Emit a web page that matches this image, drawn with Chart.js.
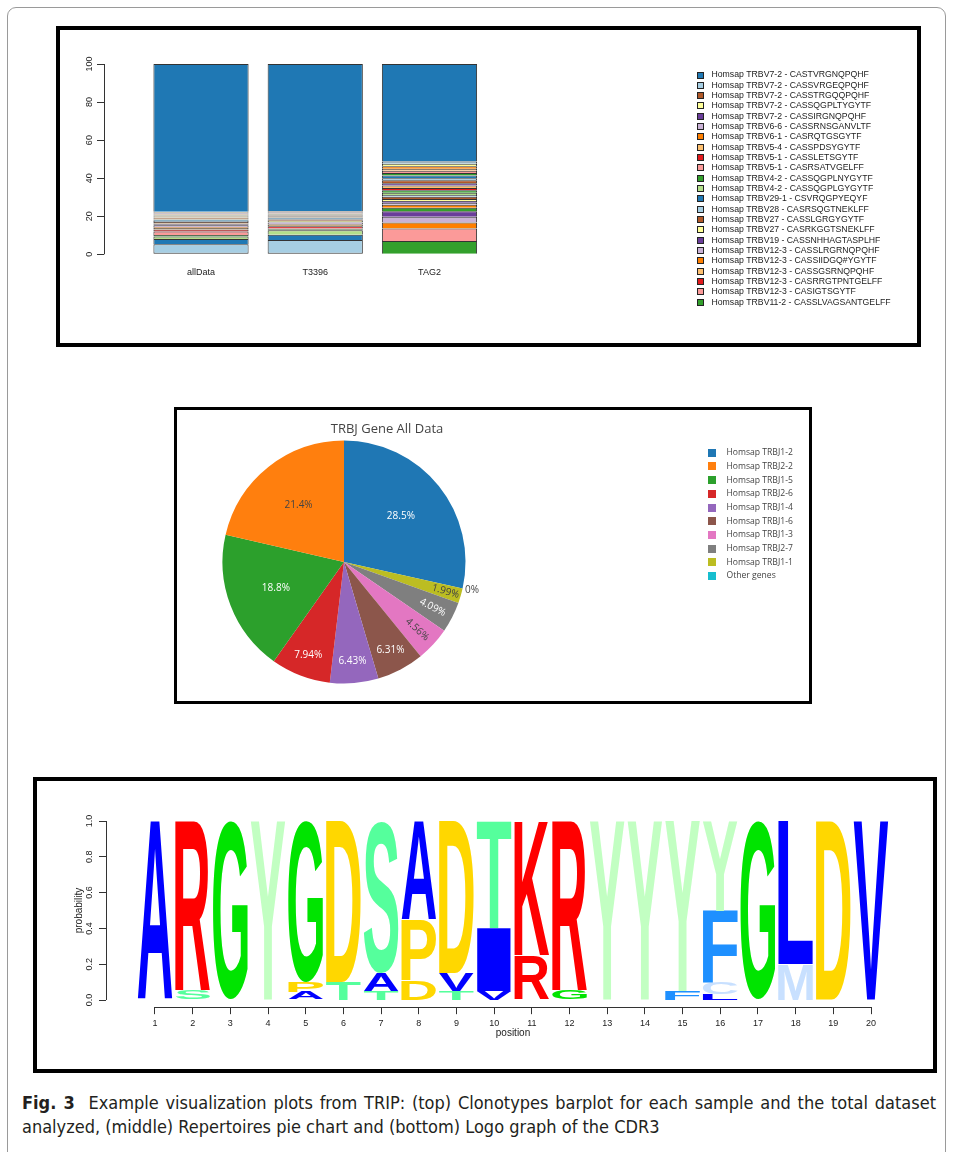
<!DOCTYPE html>
<html>
<head>
<meta charset="utf-8">
<title>Fig. 3 TRIP visualization plots</title>
<script src="https://cdn.jsdelivr.net/npm/chart.js@4.4.1/dist/chart.umd.min.js"></script>
<style>
  html, body { margin: 0; padding: 0; background: #fff; }
  body { position: relative; width: 953px; height: 1152px; overflow: hidden; }
  .frame { position: absolute; left: 7px; top: 7px; width: 939px; height: 1170px; border: 1px solid #9a9a9a; border-radius: 9px; box-sizing: border-box; }
  .box { position: absolute; border: 4px solid #000; box-sizing: border-box; }
  canvas { position: absolute; }
  .pie-title { position: absolute; left: 177px; width: 420px; top: 419px; height: 18px; line-height: 18px; text-align: center;
               font-family: "Open Sans", sans-serif; font-size: 13px; color: #444; }
  .caption { position: absolute; left: 22px; font-size: 18px; line-height: 24px; color: #231f20; white-space: nowrap;
             font-family: "Liberation Sans Narrow", "DejaVu Sans Condensed", "Roboto Condensed", "Liberation Sans", sans-serif; }
  .caption.l1 { top: 1091px; width: 914px; text-align: justify; text-align-last: justify; white-space: normal; }
  .caption.l2 { top: 1115px; }
  .caption b { font-weight: bold; }
</style>
</head>
<body>
<div class="frame"></div>

<div class="box" style="left:56px;top:26px;width:865px;height:321px;"></div>
<canvas id="bars" width="857" height="313" style="left:60px;top:30px;"></canvas>

<div class="box" style="left:174px;top:407px;width:638px;height:297px;border-width:3px;"></div>
<canvas id="pie" width="632" height="291" style="left:177px;top:410px;"></canvas>
<div class="pie-title">TRBJ Gene All Data</div>

<div class="box" style="left:33px;top:777px;width:904px;height:296px;"></div>
<canvas id="logo" width="896" height="288" style="left:37px;top:781px;"></canvas>

<div class="caption l1"><b>Fig. 3</b>&nbsp; Example visualization plots from TRIP: (top) Clonotypes barplot for each sample and the total dataset</div>
<div class="caption l2">analyzed, (middle) Repertoires pie chart and (bottom) Logo graph of the CDR3</div>

<script>
// ---------- Clonotype barplot data (rows listed from the top of each stack downwards) ----------
const samples = ['allData', 'T3396', 'TAG2'];
const samplePositions = [0.7, 1.9, 3.1];
const barTicks = [0, 20, 40, 60, 80, 100];

const clonotypes = [
  'Homsap TRBV7-2 - CASTVRGNQPQHF',
  'Homsap TRBV7-2 - CASSVRGEQPQHF',
  'Homsap TRBV7-2 - CASSTRGQQPQHF',
  'Homsap TRBV7-2 - CASSQGPLTYGYTF',
  'Homsap TRBV7-2 - CASSIRGNQPQHF',
  'Homsap TRBV6-6 - CASSRNSGANVLTF',
  'Homsap TRBV6-1 - CASRQTGSGYTF',
  'Homsap TRBV5-4 - CASSPDSYGYTF',
  'Homsap TRBV5-1 - CASSLETSGYTF',
  'Homsap TRBV5-1 - CASRSATVGELFF',
  'Homsap TRBV4-2 - CASSQGPLNYGYTF',
  'Homsap TRBV4-2 - CASSQGPLGYGYTF',
  'Homsap TRBV29-1 - CSVRQGPYEQYF',
  'Homsap TRBV28 - CASRSQGTNEKLFF',
  'Homsap TRBV27 - CASSLGRGYGYTF',
  'Homsap TRBV27 - CASRKGGTSNEKLFF',
  'Homsap TRBV19 - CASSNHHAGTASPLHF',
  'Homsap TRBV12-3 - CASSLRGRNQPQHF',
  'Homsap TRBV12-3 - CASSIIDGQ#YGYTF',
  'Homsap TRBV12-3 - CASSGSRNQPQHF',
  'Homsap TRBV12-3 - CASRRGTPNTGELFF',
  'Homsap TRBV12-3 - CASIGTSGYTF',
  'Homsap TRBV11-2 - CASSLVAGSANTGELFF'
];

// percentage of each clonotype row (50 rows, top of stack first)
const allDataPct = [77.6,
  0.2, 0.2, 0.3, 0.2, 0.2, 0.3, 0.2, 0, 0.2, 0, 0.2, 0.2, 0,
  0.3, 0.4, 0, 0, 0, 0.3, 0, 0, 0.2, 0, 0, 0, 0.4, 0.3, 0, 0, 0.2, 0, 0, 0, 0.2, 0,
  0.4, 0.5, 0.8, 0.4, 0.6, 0.8, 0.5, 0.9, 1.0, 1.8, 0.9, 1.2, 2.8, 5.3];
const t3396Pct = [77.2,
  0.3, 0.3, 0.2, 0.3, 0.2, 0.2, 0, 0.2, 0, 0.3, 0.2, 0, 0.2,
  0.3, 0, 0, 0, 0, 0.3, 0, 0, 0, 0.3, 0, 0, 0.3, 0, 0, 0, 0.3, 0, 0, 0, 0, 0,
  0.3, 0.3, 0.7, 0.7, 0.3, 0.7, 0.3, 0.9, 1.1, 0.4, 0.6, 2.3, 2.8, 7.5];
const tag2Pct = [51.2,
  1.2, 0, 1.3, 0, 0, 1.4, 1.0, 0, 1.2, 1.3, 0, 1.4, 1.1,
  1.5, 0, 1.2, 0, 0, 1.4, 1.2, 0, 1.3, 1.1, 0, 1.0, 1.2, 1.0, 0.9, 1.0, 1.6, 0, 0, 0, 1.9, 0,
  0, 0, 0, 0, 2.9, 3.0, 3.2, 0, 0, 6.5, 7.0, 0, 0, 0];

// Colour cycle used for the rows, in the same top-down order
const rowPalette = ['#1F78B4', '#A6CEE3', '#B15928', '#FFFF99', '#6A3D9A', '#CAB2D6',
                    '#FF7F00', '#FDBF6F', '#E31A1C', '#FB9A99', '#33A02C', '#B2DF8A'];

// ---------- TRBJ pie data (legend order) ----------
const trbjGenes = ['Homsap TRBJ1-2', 'Homsap TRBJ2-2', 'Homsap TRBJ1-5', 'Homsap TRBJ2-6', 'Homsap TRBJ1-4',
                   'Homsap TRBJ1-6', 'Homsap TRBJ1-3', 'Homsap TRBJ2-7', 'Homsap TRBJ1-1', 'Other genes'];
const trbjPercent = [28.5, 21.4, 18.8, 7.94, 6.43, 6.31, 4.56, 4.09, 1.99, 0];
const trbjColors = ['#1f77b4', '#ff7f0e', '#2ca02c', '#d62728', '#9467bd', '#8c564b', '#e377c2', '#7f7f7f', '#bcbd22', '#17becf'];

// ---------- CDR3 logo data (letters per position, bottom of stack first) ----------
const logoPositions = [1, 2, 3, 4, 5, 6, 7, 8, 9, 10, 11, 12, 13, 14, 15, 16, 17, 18, 19, 20];
const logoLetters = [
  ['A'], ['S', 'R'], ['G'], ['Y'], ['A', 'P', 'G'], ['T', 'D'], ['T', 'A', 'S'], ['D', 'P', 'A'],
  ['T', 'V', 'D'], ['V', 'I', 'T'], ['R', 'K'], ['G', 'R'], ['Y'], ['Y'], ['F', 'Y'],
  ['L', 'C', 'F', 'Y'], ['G'], ['M', 'L'], ['D'], ['V']
];
const logoProbs = [
  [1.0], [0.05, 0.95], [1.0], [1.0], [0.045, 0.055, 0.90], [0.10, 0.90], [0.05, 0.10, 0.85], [0.11, 0.34, 0.55],
  [0.05, 0.10, 0.85], [0.05, 0.35, 0.60], [0.25, 0.75], [0.05, 0.95], [1.0], [1.0], [0.05, 0.95],
  [0.035, 0.065, 0.40, 0.50], [1.0], [0.20, 0.80], [1.0], [1.0]
];
const logoYTicks = [0, 0.2, 0.4, 0.6, 0.8, 1.0];
const letterColors = {
  A: '#0000FF', V: '#0000FF', I: '#0000FF', L: '#0000FF',
  R: '#FF0000', K: '#FF0000',
  G: '#00E400',
  Y: '#C2FFC2',
  D: '#FFD700', P: '#FFD700',
  S: '#55FF9C', T: '#55FF9C',
  F: '#1E90FF',
  C: '#C8E0FF', M: '#C8E0FF'
};

const R_FONT = '"Liberation Sans", Arial, sans-serif';
const PLOTLY_FONT = '"Open Sans", sans-serif';

// ---------- shared plugins ----------
// R-style axis lines that only span the labelled tick range
const rAxisLines = {
  id: 'rAxisLines',
  afterDraw(chart, args, o) {
    const ctx = chart.ctx, area = chart.chartArea;
    ctx.save();
    ctx.strokeStyle = o.color || '#333';
    ctx.lineWidth = 1;
    ctx.beginPath();
    if (o.y) {
      const x = Math.round(area.left) + 0.5;
      ctx.moveTo(x, chart.scales.y.getPixelForValue(o.y[0]));
      ctx.lineTo(x, chart.scales.y.getPixelForValue(o.y[1]));
    }
    if (o.x) {
      const y = Math.round(area.bottom) + 0.5;
      ctx.moveTo(chart.scales.x.getPixelForValue(o.x[0]), y);
      ctx.lineTo(chart.scales.x.getPixelForValue(o.x[1]), y);
    }
    ctx.stroke();
    ctx.restore();
  }
};

// Vertical legend of coloured squares and labels
const boxLegend = {
  id: 'boxLegend',
  afterDraw(chart, args, o) {
    if (!o.entries) return;
    const ctx = chart.ctx;
    ctx.save();
    ctx.font = o.font;
    ctx.textAlign = 'left';
    ctx.textBaseline = 'middle';
    o.entries.forEach((it, k) => {
      const cy = o.y + k * o.spacing;
      const top = Math.round(cy - o.box / 2);
      ctx.fillStyle = it.color;
      ctx.fillRect(o.x, top, o.box, o.box);
      if (o.boxBorder) {
        ctx.strokeStyle = o.boxBorder;
        ctx.lineWidth = 1;
        ctx.strokeRect(o.x + 0.5, top + 0.5, o.box - 1, o.box - 1);
      }
      ctx.fillStyle = o.color;
      ctx.fillText(it.text, o.x + o.box + o.gap, cy);
    });
    ctx.restore();
  }
};

// ---------- 1. stacked clonotype barplot ----------
const sampleValues = [allDataPct, t3396Pct, tag2Pct];
const rowCount = allDataPct.length;
const barDatasets = [];
for (let i = rowCount - 1; i >= 0; i--) {
  barDatasets.push({
    label: clonotypes[i] || '',
    data: samples.map((s, k) => ({ x: samplePositions[k], y: sampleValues[k][i] })),
    backgroundColor: rowPalette[i % rowPalette.length],
    borderColor: '#333',
    borderWidth: { top: 1, left: 1, right: 1, bottom: i === rowCount - 1 ? 1 : 0 },
    borderSkipped: false
  });
}

new Chart(document.getElementById('bars'), {
  type: 'bar',
  data: { datasets: barDatasets },
  plugins: [rAxisLines, boxLegend],
  options: {
    responsive: false,
    animation: false,
    devicePixelRatio: 1,
    layout: { padding: { left: 0, top: 26.4, right: 237, bottom: 51.1 } },
    datasets: { bar: { categoryPercentage: 1, barPercentage: 1 / 1.2 } },
    plugins: {
      legend: { display: false },
      tooltip: { enabled: false },
      rAxisLines: { y: [0, 100], color: '#333' },
      boxLegend: {
        entries: clonotypes.map((c, i) => ({ text: c, color: rowPalette[i % rowPalette.length] })),
        x: 637, y: 45, spacing: 10.33, box: 7, gap: 7.5,
        font: '8.7px ' + R_FONT, color: '#222', boxBorder: '#222'
      }
    },
    scales: {
      x: {
        type: 'linear', stacked: true, offset: false, min: -0.319, max: 5.7315,
        grid: { display: false, drawTicks: false, offset: false }, border: { display: false },
        afterBuildTicks: s => { s.ticks = samplePositions.map(v => ({ value: v })); },
        afterFit: s => { s.height = 30; },
        ticks: { callback: (v, i) => samples[i], autoSkip: false, maxRotation: 0, padding: 5,
                 font: { family: R_FONT, size: 9 }, color: '#222' }
      },
      y: {
        type: 'linear', stacked: true, min: -4, max: 104,
        grid: { drawOnChartArea: false, drawTicks: true, tickLength: 7, color: '#333' },
        border: { display: false },
        afterBuildTicks: s => { s.ticks = barTicks.map(v => ({ value: v })); },
        afterFit: s => { s.width = 44; },
        ticks: { minRotation: 90, maxRotation: 90, crossAlign: 'center', padding: 0,
                 font: { family: R_FONT, size: 9 }, color: '#222' }
      }
    }
  }
});

// ---------- 2. TRBJ pie ----------
// slices run clockwise from 12 o'clock: the first gene, then the rest in reverse legend order
const pieOrder = [0].concat(trbjGenes.map((g, i) => i).slice(1).reverse());

function textOn(hex) {
  const r = parseInt(hex.slice(1, 3), 16), g = parseInt(hex.slice(3, 5), 16), b = parseInt(hex.slice(5, 7), 16);
  return (r * 299 + g * 587 + b * 114) / 1000 > 128 ? '#444' : '#fff';
}

const pieText = {
  id: 'pieText',
  afterDatasetsDraw(chart, args, o) {
    const ctx = chart.ctx, ds = chart.data.datasets[0], meta = chart.getDatasetMeta(0);
    ctx.save();
    ctx.font = o.font;
    ctx.textAlign = 'center';
    ctx.textBaseline = 'middle';
    meta.data.forEach((arc, j) => {
      const v = ds.data[j];
      const p = arc.getProps(['x', 'y', 'startAngle', 'endAngle', 'outerRadius'], true);
      const mid = (p.startAngle + p.endAngle) / 2;
      const rf = v >= 15 ? 0.6 : v >= 3 ? 0.82 : v > 0 ? 0.87 : 1.08;
      const tx = p.x + Math.cos(mid) * p.outerRadius * rf;
      const ty = p.y + Math.sin(mid) * p.outerRadius * rf;
      ctx.save();
      ctx.translate(tx, ty);
      if (v > 0 && v < 5) {
        let a = mid;
        while (a > Math.PI / 2) a -= Math.PI;
        while (a < -Math.PI / 2) a += Math.PI;
        ctx.rotate(a);
      }
      ctx.fillStyle = v === 0 ? '#444' : textOn(ds.backgroundColor[j]);
      ctx.fillText(v + '%', 0, 0);
      ctx.restore();
    });
    ctx.restore();
  }
};

new Chart(document.getElementById('pie'), {
  type: 'pie',
  data: {
    labels: pieOrder.map(i => trbjGenes[i]),
    datasets: [{
      data: pieOrder.map(i => trbjPercent[i]),
      backgroundColor: pieOrder.map(i => trbjColors[i]),
      borderWidth: 0,
      hoverOffset: 0
    }]
  },
  plugins: [pieText, boxLegend],
  options: {
    responsive: false,
    animation: false,
    devicePixelRatio: 1,
    rotation: 0,
    layout: { padding: { left: 45.5, top: 30.5, right: 343.5, bottom: 17.5 } },
    plugins: {
      legend: { display: false },
      tooltip: { enabled: false },
      pieText: { font: '10px ' + PLOTLY_FONT },
      boxLegend: {
        entries: trbjGenes.map((g, i) => ({ text: g, color: trbjColors[i] })),
        x: 531, y: 42.7, spacing: 13.7, box: 8, gap: 10.5,
        font: '8.6px ' + PLOTLY_FONT, color: '#444'
      }
    }
  }
});

// ---------- 3. CDR3 sequence logo ----------
const layerCount = Math.max(...logoLetters.map(l => l.length));
const logoDatasets = [];
for (let k = 0; k < layerCount; k++) {
  logoDatasets.push({
    data: logoPositions.map((p, i) => ({ x: p, y: logoProbs[i][k] || 0 })),
    letters: logoPositions.map((p, i) => logoLetters[i][k] || ''),
    backgroundColor: 'rgba(0,0,0,0)',
    borderWidth: 0
  });
}

// paints each stacked bar as its residue letter stretched to the bar's box
const logoGlyphs = {
  id: 'logoGlyphs',
  afterDatasetsDraw(chart) {
    const ctx = chart.ctx;
    const font = 'bold 200px ' + R_FONT;
    chart.data.datasets.forEach((ds, d) => {
      const meta = chart.getDatasetMeta(d);
      meta.data.forEach((el, j) => {
        const letter = ds.letters[j];
        if (!letter) return;
        const p = el.getProps(['x', 'y', 'base', 'width'], true);
        const top = Math.min(p.y, p.base), h = Math.abs(p.base - p.y);
        if (h < 0.5) return;
        ctx.save();
        ctx.font = font;
        ctx.textAlign = 'left';
        ctx.textBaseline = 'alphabetic';
        const m = ctx.measureText(letter);
        const gw = m.actualBoundingBoxLeft + m.actualBoundingBoxRight;
        const gh = m.actualBoundingBoxAscent + m.actualBoundingBoxDescent;
        ctx.translate(p.x - p.width / 2, top);
        ctx.scale(p.width / gw, h / gh);
        ctx.fillStyle = letterColors[letter] || '#000';
        ctx.fillText(letter, m.actualBoundingBoxLeft, m.actualBoundingBoxAscent);
        ctx.restore();
      });
    });
  }
};

new Chart(document.getElementById('logo'), {
  type: 'bar',
  data: { datasets: logoDatasets },
  plugins: [logoGlyphs, rAxisLines],
  options: {
    responsive: false,
    animation: false,
    devicePixelRatio: 1,
    layout: { padding: { left: 29, top: 32.84, right: 13, bottom: 16.84 } },
    datasets: { bar: { categoryPercentage: 1, barPercentage: 0.92 } },
    plugins: {
      legend: { display: false },
      tooltip: { enabled: false },
      rAxisLines: { y: [0, 1], x: [1, 20], color: '#333' }
    },
    scales: {
      x: {
        type: 'linear', stacked: true, offset: false, min: -0.3, max: 21.3,
        grid: { drawOnChartArea: false, drawTicks: true, tickLength: 7, color: '#333', offset: false },
        border: { display: false },
        afterBuildTicks: s => { s.ticks = logoPositions.map(v => ({ value: v })); },
        afterFit: s => { s.height = 45; },
        ticks: { autoSkip: false, maxRotation: 0, padding: 4, font: { family: R_FONT, size: 9 }, color: '#222' },
        title: { display: true, text: 'position', font: { family: R_FONT, size: 10 }, color: '#222',
                 padding: { top: 0, bottom: 13.16 } }
      },
      y: {
        type: 'linear', stacked: true, min: -0.04, max: 1.04,
        grid: { drawOnChartArea: false, drawTicks: true, tickLength: 7, color: '#333' },
        border: { display: false },
        afterBuildTicks: s => { s.ticks = logoYTicks.map(v => ({ value: v })); },
        afterFit: s => { s.width = 40; },
        ticks: { minRotation: 90, maxRotation: 90, crossAlign: 'center', padding: 3.5,
                 callback: v => Number(v).toFixed(1), font: { family: R_FONT, size: 9 }, color: '#222' },
        title: { display: true, text: 'probability', font: { family: R_FONT, size: 10 }, color: '#222',
                 padding: { top: 7, bottom: 0 } }
      }
    }
  }
});
</script>
</body>
</html>
